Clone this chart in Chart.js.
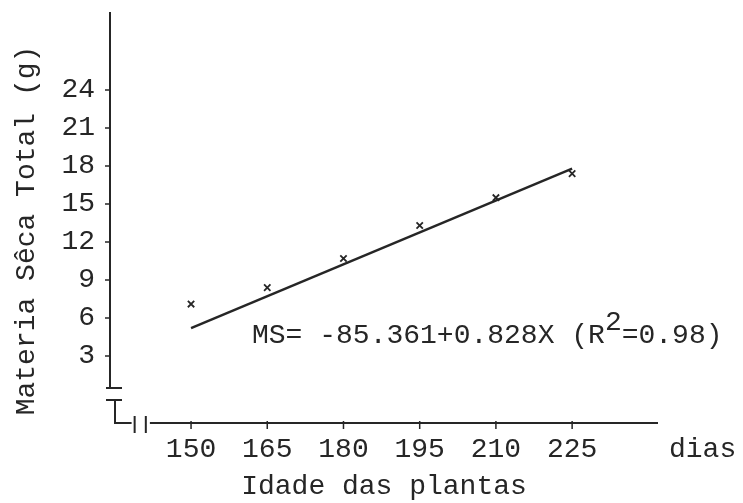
<!DOCTYPE html>
<html>
<head>
<meta charset="utf-8">
<script src="https://cdn.jsdelivr.net/npm/chart.js@4.4.1/dist/chart.umd.min.js"></script>
<style>
  html, body { margin: 0; padding: 0; background: #fff; }
  #wrap { width: 743px; height: 503px; }
</style>
</head>
<body>
<div id="wrap"><canvas id="c"></canvas></div>
<script>
// plant age (dias) and total dry matter (g)
const ages = [150, 165, 180, 195, 210, 225];
const dryMatter = [7.1, 8.4, 10.7, 13.3, 15.5, 17.4];
// fitted line end points
const fitAges = [150, 225];
const fitValues = [5.2, 17.8];
const xTicks = [150, 165, 180, 195, 210, 225];
const yTicks = [3, 6, 9, 12, 15, 18, 21, 24];
const yTitle = 'Materia Sêca Total (g)';
const equation = ['MS= -85.361+0.828X (R', '2', '=0.98)'];

const ink = '#262626';
const typeFont = 'Liberation Mono, Courier New, monospace';

// hand drawn axes with the little break marks
const typedAxes = {
    id: 'typedAxes',
    afterDraw(chart) {
        const { ctx, chartArea, scales: { x, y } } = chart;
        const ax = chartArea.left;
        const bottom = chartArea.bottom;
        const brk1 = y.getPixelForValue(0.47);
        const brk2 = y.getPixelForValue(-0.47);
        ctx.save();
        ctx.strokeStyle = ink;
        ctx.lineWidth = 2;
        ctx.beginPath();
        // y axis
        ctx.moveTo(ax, chartArea.top);
        ctx.lineTo(ax, brk1);
        ctx.moveTo(ax - 4, brk1); ctx.lineTo(ax + 12, brk1);
        ctx.moveTo(ax - 4, brk2); ctx.lineTo(ax + 12, brk2);
        ctx.moveTo(ax + 5, brk2); ctx.lineTo(ax + 5, bottom);
        ctx.lineTo(x.getPixelForValue(138.3), bottom);
        // double bar break
        [138.9, 141.1].forEach(v => {
            const px = x.getPixelForValue(v);
            ctx.moveTo(px, bottom - 7); ctx.lineTo(px, bottom + 10);
        });
        // x axis
        ctx.moveTo(x.getPixelForValue(141.9), bottom);
        ctx.lineTo(chartArea.right, bottom);
        ctx.stroke();

        ctx.lineWidth = 1.5;
        ctx.beginPath();
        yTicks.forEach(v => {
            const py = y.getPixelForValue(v);
            ctx.moveTo(ax - 5, py); ctx.lineTo(ax, py);
        });
        xTicks.forEach(v => {
            const px = x.getPixelForValue(v);
            ctx.moveTo(px, bottom - 2); ctx.lineTo(px, bottom + 6);
        });
        ctx.stroke();

        ctx.fillStyle = ink;
        ctx.font = '28px ' + typeFont;
        ctx.textBaseline = 'middle';
        ctx.textAlign = 'left';
        ctx.fillText('dias', chartArea.right + 11, bottom + 27);

        // regression equation
        let ex = x.getPixelForValue(162);
        const ey = y.getPixelForValue(4.6);
        ctx.fillText(equation[0], ex, ey);
        ex += ctx.measureText(equation[0]).width;
        ctx.fillText(equation[1], ex, ey - 13);
        ex += ctx.measureText(equation[1]).width;
        ctx.fillText(equation[2], ex, ey);

        // y title, typed a bit low on the page
        ctx.translate(27, (chartArea.top + bottom) / 2 + 13);
        ctx.rotate(-Math.PI / 2);
        ctx.textAlign = 'center';
        ctx.fillText(yTitle, 0, 0);
        ctx.restore();
    }
};

new Chart(document.getElementById('c'), {
    type: 'scatter',
    data: {
        datasets: [
            {
                label: 'MS',
                data: ages.map((a, i) => ({ x: a, y: dryMatter[i] })),
                pointStyle: 'crossRot',
                pointRadius: 4.5,
                borderColor: ink,
                borderWidth: 1.8
            },
            {
                type: 'line',
                label: 'ajuste',
                data: fitAges.map((a, i) => ({ x: a, y: fitValues[i] })),
                borderColor: ink,
                borderWidth: 2.5,
                pointRadius: 0
            }
        ]
    },
    options: {
        responsive: true,
        maintainAspectRatio: false,
        animation: false,
        layout: { padding: { top: 12, right: 85, left: 0, bottom: 0 } },
        plugins: {
            legend: { display: false },
            tooltip: { enabled: false }
        },
        scales: {
            x: {
                type: 'linear',
                min: 134.05,
                max: 241.9,
                afterBuildTicks: s => { s.ticks = xTicks.map(v => ({ value: v })); },
                afterFit: s => { s.height = 80; s.paddingLeft = 0; s.paddingRight = 0; },
                border: { display: false },
                grid: { display: false, drawTicks: false },
                ticks: {
                    color: ink,
                    padding: 10,
                    maxRotation: 0,
                    autoSkip: false,
                    font: { family: typeFont, size: 28 }
                },
                title: {
                    display: true,
                    text: 'Idade das plantas',
                    color: ink,
                    padding: { top: 0, bottom: 2 },
                    font: { family: typeFont, size: 28, lineHeight: 1 }
                }
            },
            y: {
                min: -2.29,
                max: 30.16,
                afterBuildTicks: s => { s.ticks = yTicks.map(v => ({ value: v })); },
                afterFit: s => { s.width = 110; s.paddingTop = 0; s.paddingBottom = 0; },
                border: { display: false },
                grid: { display: false, drawTicks: false },
                ticks: {
                    color: ink,
                    padding: 15,
                    autoSkip: false,
                    font: { family: typeFont, size: 28 }
                }
            }
        }
    },
    plugins: [typedAxes]
});
</script>
</body>
</html>
